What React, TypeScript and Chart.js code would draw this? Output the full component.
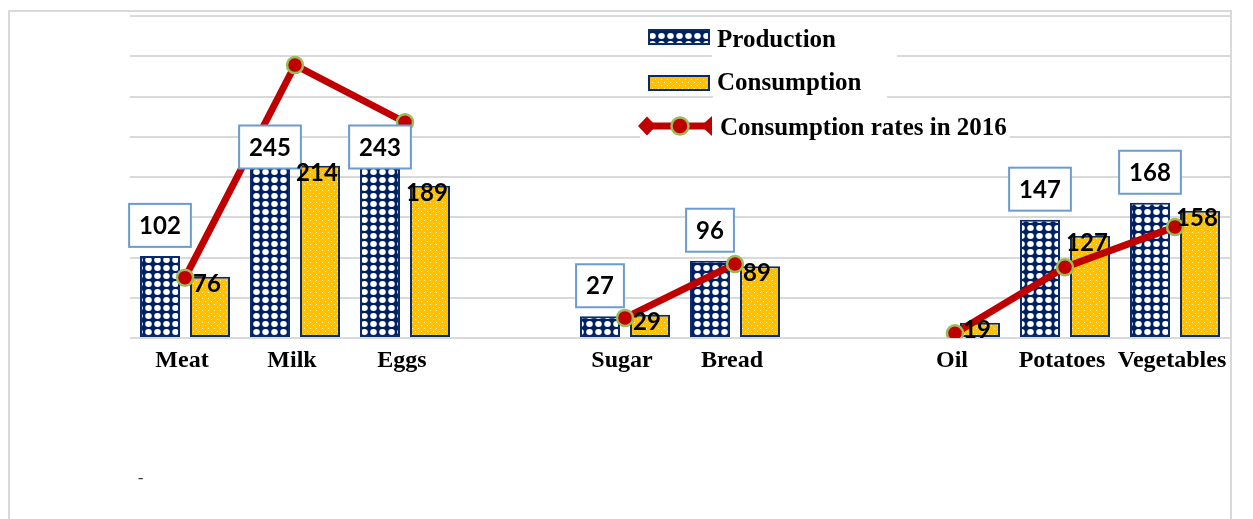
import { useEffect, useRef } from 'react';
import { Chart, registerables } from 'chart.js';

Chart.register(...registerables);

const categories = ['Meat', 'Milk', 'Eggs', '', 'Sugar', 'Bread', '', 'Oil', 'Potatoes', 'Vegetables'];
const production = [102, 245, 243, null, 27, 96, null, null, 147, 168];
const consumption = [76, 214, 189, null, 29, 89, null, 19, 127, 158];
const rates2016 = [75, 339, 268, null, 25, 92, null, 6, 88, 138];
const yMax = 400;
const yStep = 50;
const legendLabels = ['Production', 'Consumption', 'Consumption rates in 2016'];

const NAVY = '#0B2A6A';
const PAT_NAVY = '#002060';
const GOLD = '#FFC000';
const RED = '#C00000';
const GREEN = '#9BBB59';
const GRID = '#d9d9d9';
const BOX = '#6d9bd1';

function makeProdPattern(ctx: CanvasRenderingContext2D) {
  const c = document.createElement('canvas');
  c.width = 9;
  c.height = 8;
  const g = c.getContext('2d')!;
  g.fillStyle = PAT_NAVY;
  g.fillRect(0, 0, 9, 8);
  g.fillStyle = '#fff';
  g.beginPath();
  g.ellipse(4.5, 4, 3.3, 2.9, 0, 0, Math.PI * 2);
  g.fill();
  return ctx.createPattern(c, 'repeat')!;
}

function makeConsPattern(ctx: CanvasRenderingContext2D) {
  const c = document.createElement('canvas');
  c.width = 6;
  c.height = 6;
  const g = c.getContext('2d')!;
  g.fillStyle = GOLD;
  g.fillRect(0, 0, 6, 6);
  g.fillStyle = '#fff3cc';
  g.fillRect(1, 1, 1, 1);
  g.fillRect(4, 4, 1, 1);
  return ctx.createPattern(c, 'repeat')!;
}

export default function App() {
  const ref = useRef<HTMLCanvasElement>(null);

  useEffect(() => {
    const canvas = ref.current!;
    const ctx = canvas.getContext('2d')!;
    const prodPat = makeProdPattern(ctx);
    const consPat = makeConsPattern(ctx);

    const overlay = {
      id: 'overlay',
      beforeDraw(chart: any) {
        const c = chart.ctx as CanvasRenderingContext2D;
        c.save();
        c.fillStyle = '#fff';
        c.fillRect(0, 0, chart.width, chart.height);
        c.strokeStyle = GRID;
        c.lineWidth = 2;
        c.beginPath();
        c.moveTo(9, chart.height);
        c.lineTo(9, 11);
        c.lineTo(1231, 11);
        c.lineTo(1231, chart.height);
        c.stroke();
        c.restore();
      },
      afterDraw(chart: any) {
        const c = chart.ctx as CanvasRenderingContext2D;
        const xScale = chart.scales.x;
        c.save();

        // production labels (boxed)
        const prodMeta = chart.getDatasetMeta(1);
        c.font = 'bold 24px Lato';
        c.textAlign = 'center';
        c.textBaseline = 'alphabetic';
        production.forEach((v, i) => {
          if (v === null) return;
          const el = prodMeta.data[i];
          const cy = Math.max(el.y - 30.5, 147);
          const txt = String(v);
          const tw = c.measureText(txt).width;
          const w = tw + 20;
          const h = 43;
          c.fillStyle = '#fff';
          c.fillRect(el.x - w / 2, cy - h / 2, w, h);
          c.strokeStyle = BOX;
          c.lineWidth = 2;
          c.strokeRect(el.x - w / 2, cy - h / 2, w, h);
          c.fillStyle = '#000';
          c.fillText(txt, el.x, cy + 8.5);
        });

        // consumption labels
        const consMeta = chart.getDatasetMeta(2);
        consumption.forEach((v, i) => {
          if (v === null) return;
          const el = consMeta.data[i];
          c.fillStyle = '#000';
          c.fillText(String(v), el.x - 3, el.y + 15);
        });

        // category labels
        c.font = 'bold 24px "Liberation Serif"';
        c.fillStyle = '#000';
        categories.forEach((lab, i) => {
          if (!lab) return;
          c.fillText(lab, xScale.getPixelForTick(i) - 3, 367);
        });

        // legend backgrounds
        c.fillStyle = '#fff';
        c.fillRect(712, 18, 185, 40);
        c.fillRect(713, 62, 174, 37);
        c.fillRect(640, 108, 370, 32);

        // legend swatches
        c.fillStyle = prodPat;
        c.fillRect(648, 29, 62, 16);
        c.strokeStyle = NAVY;
        c.lineWidth = 2;
        c.strokeRect(649, 30, 60, 14);
        c.fillStyle = consPat;
        c.fillRect(648, 75, 62, 16);
        c.strokeRect(649, 76, 60, 14);

        // line legend marker
        const ly = 126;
        c.strokeStyle = RED;
        c.lineWidth = 7;
        c.beginPath();
        c.moveTo(647, ly);
        c.lineTo(708, ly);
        c.stroke();
        c.fillStyle = RED;
        c.beginPath();
        c.moveTo(647, ly - 9.5);
        c.lineTo(656, ly);
        c.lineTo(647, ly + 9.5);
        c.lineTo(638, ly);
        c.closePath();
        c.fill();
        c.beginPath();
        c.moveTo(712, ly - 10);
        c.lineTo(712, ly + 10);
        c.lineTo(701, ly);
        c.closePath();
        c.fill();
        c.beginPath();
        c.arc(680, ly, 8.5, 0, Math.PI * 2);
        c.fillStyle = RED;
        c.fill();
        c.strokeStyle = GREEN;
        c.lineWidth = 2.5;
        c.stroke();

        // legend texts
        c.font = 'bold 25px "Liberation Serif"';
        c.fillStyle = '#000';
        c.textAlign = 'left';
        c.fillText(legendLabels[0], 717, 47);
        c.fillText(legendLabels[1], 717, 90);
        c.fillText(legendLabels[2], 720, 135);

        // stray dash
        c.font = '16px "Liberation Serif"';
        c.fillStyle = '#333';
        c.fillText('-', 138, 483);

        c.restore();
      },
    };

    const chart = new Chart(canvas, {
      type: 'bar',
      data: {
        labels: categories,
        datasets: [
          {
            type: 'line',
            label: legendLabels[2],
            data: rates2016,
            borderColor: RED,
            borderWidth: 7,
            pointRadius: 8,
            pointHoverRadius: 8,
            pointBackgroundColor: RED,
            pointBorderColor: GREEN,
            pointBorderWidth: 2.5,
            spanGaps: false,
            tension: 0,
            order: 0,
          } as any,
          {
            type: 'bar',
            label: legendLabels[0],
            data: production,
            backgroundColor: prodPat,
            borderColor: NAVY,
            borderWidth: 2,
            borderSkipped: false,
            categoryPercentage: 100 / 110,
            barPercentage: 0.8,
            order: 1,
          } as any,
          {
            type: 'bar',
            label: legendLabels[1],
            data: consumption,
            backgroundColor: consPat,
            borderColor: NAVY,
            borderWidth: 2,
            borderSkipped: false,
            categoryPercentage: 100 / 110,
            barPercentage: 0.8,
            order: 2,
          } as any,
        ],
      },
      options: {
        responsive: false,
        animation: false,
        events: [],
        layout: { padding: { left: 130, right: 23, top: 16, bottom: 0 } },
        plugins: { legend: { display: false }, tooltip: { enabled: false } },
        scales: {
          x: {
            grid: { display: false, drawTicks: false },
            border: { display: false },
            ticks: { display: false },
            afterFit: (s: any) => {
              s.height = 181;
            },
          },
          y: {
            min: 0,
            max: yMax,
            ticks: { display: false, stepSize: yStep },
            grid: { color: GRID, lineWidth: 2, drawTicks: false },
            border: { display: false },
            afterFit: (s: any) => {
              s.width = 0;
            },
          },
        },
      },
      plugins: [overlay],
    });

    return () => chart.destroy();
  }, []);

  return (
    <div style={{ position: 'fixed', left: 0, top: 0, width: 1253, height: 519, background: '#fff' }}>
      <canvas ref={ref} width={1253} height={519} style={{ display: 'block', width: 1253, height: 519 }} />
    </div>
  );
}
